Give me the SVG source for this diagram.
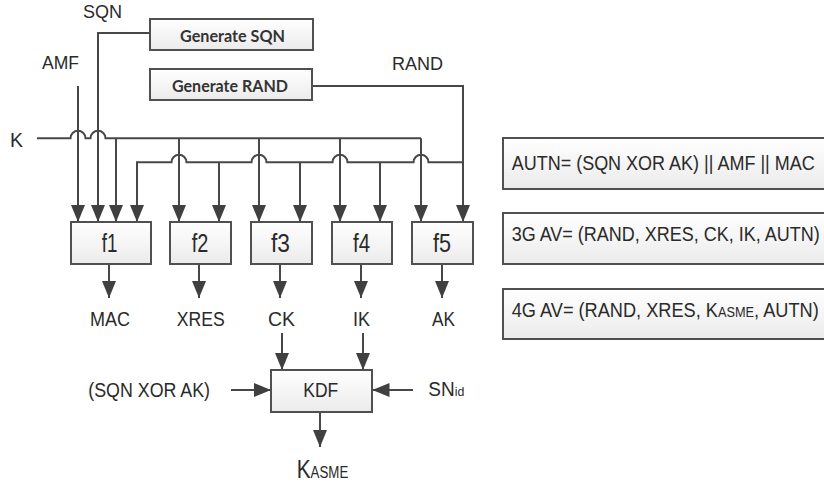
<svg xmlns="http://www.w3.org/2000/svg" width="824" height="489" viewBox="0 0 824 489">
<defs>
<linearGradient id="boxfill" x1="0" y1="0" x2="0" y2="1">
<stop offset="0" stop-color="#ffffff"/>
<stop offset="1" stop-color="#ebebeb"/>
</linearGradient>
<marker id="arr" viewBox="0 0 17 14" refX="17" refY="7" markerWidth="17" markerHeight="14" markerUnits="userSpaceOnUse" orient="auto">
<path d="M0,0 L17,7 L0,14 z" fill="#404040"/>
</marker>
<style>
.box{fill:url(#boxfill);stroke:#505050;stroke-width:2}
.ln{fill:none;stroke:#484848;stroke-width:2}
.ar{fill:none;stroke:#484848;stroke-width:2;marker-end:url(#arr)}
.t{font-family:"Liberation Sans",Arial,sans-serif;font-size:20px;fill:#2a2a2a}
.g{font-family:Lato,"Liberation Sans",sans-serif;font-weight:700;font-size:17px;fill:#333}
</style>
</defs>
<rect width="824" height="489" fill="#ffffff"/>

<g id="connectors">
<!-- K line with hops -->
<path class="ln" d="M37,138.3 H70.5 A7.5,7.5 0 0 1 85.5,138.3 H90.5 A7.5,7.5 0 0 1 105.5,138.3 H421"/>
<path class="ar" d="M116,138.3 V222"/>
<path class="ar" d="M179,138.3 V222"/>
<path class="ar" d="M259,138.3 V222"/>
<path class="ar" d="M340,138.3 V222"/>
<path class="ar" d="M421,138.3 V222"/>
<!-- AMF -->
<path class="ar" d="M78,86 V222"/>
<!-- SQN -->
<path class="ar" d="M150,33 H98 V222"/>
<!-- RAND -->
<path class="ar" d="M312,86 H463 V222"/>
<path class="ar" d="M463,162.3 H428.5 A7.5,7.5 0 0 0 413.5,162.3 H347.5 A7.5,7.5 0 0 0 332.5,162.3 H266.5 A7.5,7.5 0 0 0 251.5,162.3 H186.5 A7.5,7.5 0 0 0 171.5,162.3 H137 V222"/>
<path class="ar" d="M219,162.3 V222"/>
<path class="ar" d="M300,162.3 V222"/>
<path class="ar" d="M380,162.3 V222"/>
<!-- outputs -->
<path class="ar" d="M109,264 V298"/>
<path class="ar" d="M199,264 V298"/>
<path class="ar" d="M280,264 V298"/>
<path class="ar" d="M361,264 V298"/>
<path class="ar" d="M442,264 V298"/>
<!-- KDF inputs/outputs -->
<path class="ar" d="M282,333 V370"/>
<path class="ar" d="M363,333 V370"/>
<path class="ar" d="M231,390 H271"/>
<path class="ar" d="M413,390 H372.5"/>
<path class="ar" d="M320,412.5 V447"/>
</g>

<g id="gen-sqn">
<rect class="box" x="150" y="19" width="163" height="31"/>
<text class="g" x="180" y="41.5" textLength="105" lengthAdjust="spacingAndGlyphs">Generate SQN</text>
</g>
<g id="gen-rand">
<rect class="box" x="150" y="69" width="162" height="31"/>
<text class="g" x="172" y="91.5" textLength="116" lengthAdjust="spacingAndGlyphs">Generate RAND</text>
</g>

<g id="labels-in">
<text class="t" x="83" y="18" style="font-size:18px" textLength="39" lengthAdjust="spacingAndGlyphs">SQN</text>
<text class="t" x="42" y="69" style="font-size:18px" textLength="37" lengthAdjust="spacingAndGlyphs">AMF</text>
<text class="t" x="392" y="70" style="font-size:18px" textLength="51" lengthAdjust="spacingAndGlyphs">RAND</text>
<text class="t" x="10" y="147" textLength="13" lengthAdjust="spacingAndGlyphs">K</text>
</g>

<g id="f1">
<rect class="box" x="71" y="222" width="80" height="42"/>
<text class="t" x="101.7" y="252" style="font-size:25px" textLength="15.6" lengthAdjust="spacingAndGlyphs">f1</text>
</g>
<g id="f2">
<rect class="box" x="170" y="222" width="61" height="42"/>
<text class="t" x="191.7" y="252" style="font-size:25px" textLength="16.6" lengthAdjust="spacingAndGlyphs">f2</text>
</g>
<g id="f3">
<rect class="box" x="251" y="222" width="61" height="42"/>
<text class="t" x="271" y="252" style="font-size:25px" textLength="19" lengthAdjust="spacingAndGlyphs">f3</text>
</g>
<g id="f4">
<rect class="box" x="332" y="222" width="60" height="42"/>
<text class="t" x="353" y="252" style="font-size:25px" textLength="17" lengthAdjust="spacingAndGlyphs">f4</text>
</g>
<g id="f5">
<rect class="box" x="412" y="222" width="61" height="42"/>
<text class="t" x="433" y="252" style="font-size:25px" textLength="18" lengthAdjust="spacingAndGlyphs">f5</text>
</g>

<g id="labels-out">
<text class="t" x="90" y="326" textLength="40" lengthAdjust="spacingAndGlyphs">MAC</text>
<text class="t" x="176.7" y="326" textLength="48" lengthAdjust="spacingAndGlyphs">XRES</text>
<text class="t" x="268" y="326" textLength="27" lengthAdjust="spacingAndGlyphs">CK</text>
<text class="t" x="353" y="326" textLength="17" lengthAdjust="spacingAndGlyphs">IK</text>
<text class="t" x="432" y="326" textLength="23" lengthAdjust="spacingAndGlyphs">AK</text>
</g>

<g id="kdf">
<rect class="box" x="271" y="370" width="101" height="42"/>
<text class="t" x="303.3" y="397" style="font-size:21px" textLength="35" lengthAdjust="spacingAndGlyphs">KDF</text>
</g>
<g id="labels-kdf">
<text class="t" x="88.3" y="397" textLength="121.7" lengthAdjust="spacingAndGlyphs">(SQN XOR AK)</text>
<text class="t" x="428.3" y="396" textLength="36" lengthAdjust="spacingAndGlyphs">SN<tspan style="font-size:13px">id</tspan></text>
<text class="t" x="296.7" y="478.3" style="font-size:25px" textLength="51.6" lengthAdjust="spacingAndGlyphs">K<tspan style="font-size:16px">ASME</tspan></text>
</g>

<g id="autn">
<rect class="box" x="503" y="138" width="330" height="51"/>
<text class="t" x="511.7" y="169.5" textLength="303" lengthAdjust="spacingAndGlyphs">AUTN= (SQN XOR AK) || AMF || MAC</text>
</g>
<g id="av3g">
<rect class="box" x="503" y="213" width="330" height="51"/>
<text class="t" x="511.7" y="241" textLength="308" lengthAdjust="spacingAndGlyphs">3G AV= (RAND, XRES, CK, IK, AUTN)</text>
</g>
<g id="av4g">
<rect class="box" x="503" y="289" width="330" height="50"/>
<text class="t" x="511.7" y="317" textLength="307" lengthAdjust="spacingAndGlyphs">4G AV= (RAND, XRES, K<tspan style="font-size:14px">ASME</tspan>, AUTN)</text>
</g>
</svg>
